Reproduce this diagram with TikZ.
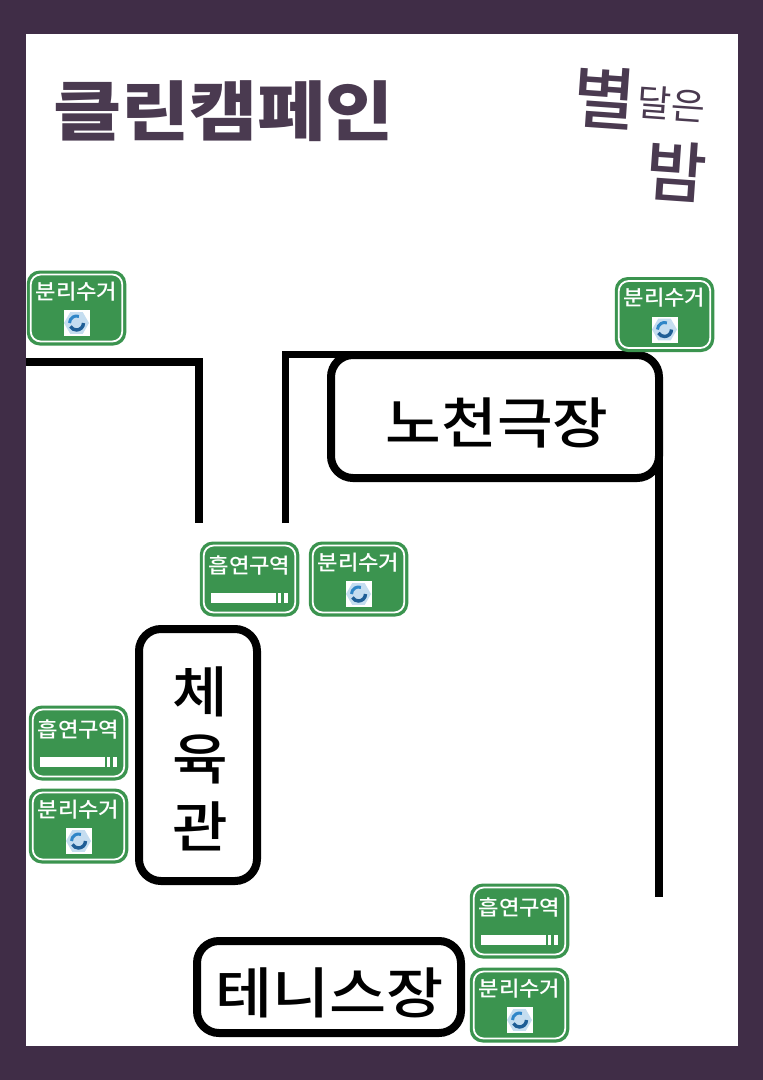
\documentclass[tikz,border=0pt]{standalone}
\usepackage{fontspec}
\usepackage{graphicx}
\usetikzlibrary{shapes.geometric}
\newfontfamily\krfont{Noto Sans CJK KR Medium}
\newfontfamily\krbold{Noto Sans CJK KR Bold}
\newfontfamily\krblack{Noto Sans CJK KR Black}
\newfontfamily\krlight{Noto Sans CJK KR}
\definecolor{frame}{HTML}{402D47}
\definecolor{ink}{HTML}{4A3A50}
\definecolor{signgreen}{HTML}{3B944F}
\definecolor{ringa}{HTML}{2F86C8}
\definecolor{ringb}{HTML}{1F5E96}
\definecolor{hexfill}{HTML}{C5DDF0}
\newcommand{\px}[1]{\fontsize{#1pt}{#1pt}\selectfont}
\newcommand{\wide}[2]{\scalebox{#1}[1]{#2}}
\tikzset{
  x=1pt,y=-1pt,
  path/.style={line width=7.8pt,black},
  hall/.style={draw=black,line width=8pt,rounded corners=22pt,fill=white,inner sep=0pt},
  hallText/.style={font=\krfont\px{55},inner sep=0pt,black},
  titleText/.style={text=ink,inner sep=0pt},
  signOuter/.style={draw=none,fill=signgreen,rounded corners=13pt,minimum width=99.5pt,minimum height=75pt,inner sep=0pt},
  signInner/.style={draw=white,line width=1.8pt,rounded corners=10pt,minimum width=91.5pt,minimum height=67pt,inner sep=0pt},
  signText/.style={font=\krfont\px{21},text=white,inner sep=0pt},
  bar/.style={fill=white,minimum height=9.5pt,inner sep=0pt},
}
% recycle sign: name, centre x, centre y
\newcommand{\recyc}[3]{
  \node[signOuter] (#1) at (#2,#3) {};
  \node[signInner] (#1in) at (#1) {};
  \node[signText] (#1t) at ([yshift=16.5pt]#1.center) {\wide{1.06}{분리수거}};
  \node[fill=white,minimum size=26pt,inner sep=0pt] (#1i) at ([yshift=-15pt]#1.center) {};
  \node[regular polygon,regular polygon sides=6,fill=hexfill,minimum size=25pt,inner sep=0pt] (#1h) at (#1i) {};
  \draw[line width=3pt,ringa] ([xshift=-7pt]#1h.center) arc[start angle=180,end angle=70,radius=7pt];
  \draw[line width=3.4pt,ringb] ([xshift=7pt]#1h.center) arc[start angle=0,end angle=-150,radius=7pt];
}
% smoking sign: name, centre x, centre y
\newcommand{\smok}[3]{
  \node[signOuter] (#1) at (#2,#3) {};
  \node[signInner] (#1in) at (#1) {};
  \node[signText] (#1t) at ([yshift=13.5pt]#1.center) {\wide{1.06}{흡연구역}};
  \node[bar,minimum width=65pt] (#1c) at ([xshift=-6pt,yshift=-19pt]#1.center) {};
  \node[bar,minimum width=3.5pt] (#1d) at ([xshift=30pt,yshift=-19pt]#1.center) {};
  \node[bar,minimum width=3.5pt] (#1e) at ([xshift=36.5pt,yshift=-19pt]#1.center) {};
}
\begin{document}
\begin{tikzpicture}
\useasboundingbox (0,0) rectangle (763,1080);
\fill[frame] (0,0) rectangle (763,1080);
\fill[white] (26,34) rectangle (738,1046);

\node[titleText,font=\krblack\px{65},anchor=west] (title) at (53,111) {\wide{1.14}{클린캠페인}};
\node[titleText,font=\krfont\px{68},rotate=-4] (byeol) at (605,98) {별};
\node[titleText,font=\krlight\px{37},rotate=-4] (dal) at (671,104) {달은};
\node[titleText,font=\krfont\px{66},rotate=-4] (bam) at (677,172) {밤};

\coordinate (a1) at (26,362);
\coordinate (a2) at (199,362);
\coordinate (a3) at (199,523);
\draw[path] (a1) -- (a2) -- (a3);
\coordinate (b1) at (285.5,523);
\coordinate (b2) at (285.5,354.5);
\coordinate (b3) at (640,354.5);
\draw[path] (b1) -- (b2) -- (b3);

\node[hall,minimum width=328pt,minimum height=123pt] (theatre) at (495,416.5) {};
\node[hallText] (theatreT) at (497,423) {\wide{1.1}{노천극장}};
\node[hall,minimum width=118pt,minimum height=252pt] (gym) at (198,755) {};
\node[hallText] (gym1) at (200,692) {\wide{1.1}{체}};
\node[hallText] (gym2) at (200,759) {\wide{1.1}{육}};
\node[hallText] (gym3) at (200,826) {\wide{1.1}{관}};
\node[hall,minimum width=264pt,minimum height=92pt] (tennis) at (329,987) {};
\node[hallText] (tennisT) at (329.5,993) {\wide{1.13}{테니스장}};

\coordinate (c1) at (659,440);
\coordinate (c2) at (659,897);
\draw[path] (c1) -- (c2);

\recyc{r1}{76.5}{308}
\recyc{r2}{664.5}{314.5}
\recyc{r3}{358.5}{579}
\recyc{r4}{78.5}{826}
\recyc{r5}{519.5}{1005}
\smok{s1}{249.5}{579}
\smok{s2}{78.5}{743}
\smok{s3}{519.5}{921}
\end{tikzpicture}
\end{document}
